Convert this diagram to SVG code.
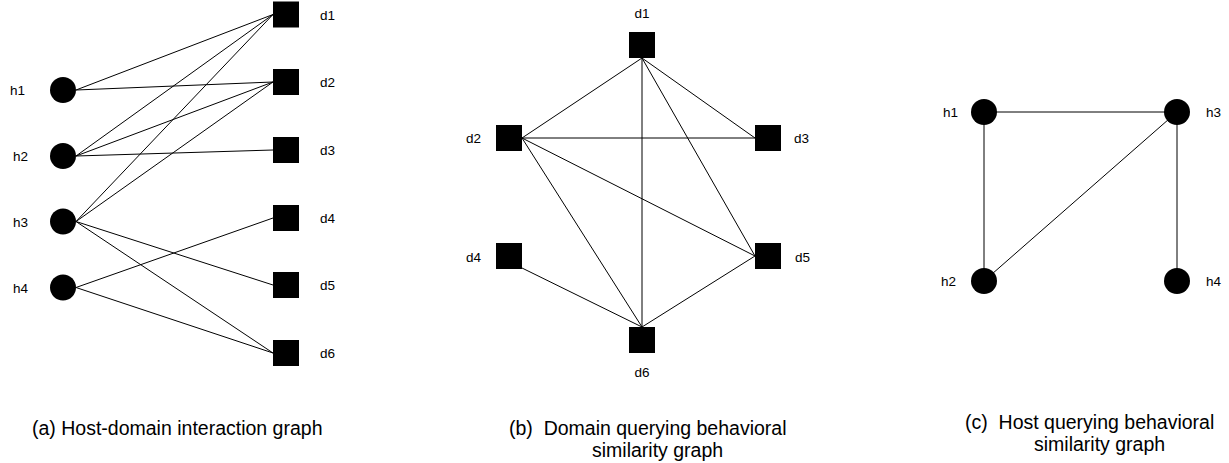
<svg xmlns="http://www.w3.org/2000/svg" width="1229" height="463" viewBox="0 0 1229 463">
<style>
.e{stroke:#000;stroke-width:1;fill:none}
.sq{fill:#000}
.ci{fill:#000}
.lb{font-family:"Liberation Sans",Arial,sans-serif;font-size:13.5px;fill:#000}
.cap{font-family:"Liberation Sans",Arial,sans-serif;font-size:19.5px;fill:#000}
</style>
<rect width="1229" height="463" fill="#fff"/>
<g id="connectors">
<!-- panel a -->
<line class="e" x1="76" y1="90" x2="273" y2="14.5"/>
<line class="e" x1="76" y1="90" x2="273" y2="82"/>
<line class="e" x1="76" y1="156" x2="273" y2="14.5"/>
<line class="e" x1="76" y1="156" x2="273" y2="82"/>
<line class="e" x1="76" y1="156" x2="273" y2="150"/>
<line class="e" x1="76" y1="221.5" x2="273" y2="14.5"/>
<line class="e" x1="76" y1="221.5" x2="273" y2="82"/>
<line class="e" x1="76" y1="221.5" x2="273" y2="285"/>
<line class="e" x1="76" y1="221.5" x2="273" y2="353"/>
<line class="e" x1="76" y1="287.5" x2="273" y2="218"/>
<line class="e" x1="76" y1="287.5" x2="273" y2="353"/>
<!-- panel b -->
<line class="e" x1="642" y1="58" x2="522" y2="138"/>
<line class="e" x1="642" y1="58" x2="755" y2="138"/>
<line class="e" x1="642" y1="58" x2="642" y2="327"/>
<line class="e" x1="642" y1="58" x2="755" y2="256"/>
<line class="e" x1="522" y1="138" x2="755" y2="138"/>
<line class="e" x1="522" y1="138" x2="755" y2="256"/>
<line class="e" x1="522" y1="138" x2="642" y2="327"/>
<line class="e" x1="522" y1="268" x2="642" y2="327"/>
<line class="e" x1="755" y1="256" x2="642" y2="327"/>
<!-- panel c -->
<line class="e" x1="984" y1="112" x2="1177" y2="112"/>
<line class="e" x1="984" y1="112" x2="984" y2="281"/>
<line class="e" x1="1177" y1="112" x2="1177" y2="281"/>
<line class="e" x1="1177" y1="112" x2="984" y2="281"/>
</g>
<!-- panel a nodes -->
<g id="a-h1"><circle class="ci" cx="63" cy="90" r="13"/><text class="lb" x="10" y="95">h1</text></g>
<g id="a-h2"><circle class="ci" cx="63" cy="156" r="13"/><text class="lb" x="13" y="161">h2</text></g>
<g id="a-h3"><circle class="ci" cx="63" cy="221.5" r="13"/><text class="lb" x="13" y="226.5">h3</text></g>
<g id="a-h4"><circle class="ci" cx="63" cy="287.5" r="13"/><text class="lb" x="13" y="292.5">h4</text></g>
<g id="a-d1"><rect class="sq" x="273" y="1.5" width="26" height="26"/><text class="lb" x="320" y="19.5">d1</text></g>
<g id="a-d2"><rect class="sq" x="273" y="69" width="26" height="26"/><text class="lb" x="320" y="87">d2</text></g>
<g id="a-d3"><rect class="sq" x="273" y="137" width="26" height="26"/><text class="lb" x="320" y="155">d3</text></g>
<g id="a-d4"><rect class="sq" x="273" y="205" width="26" height="26"/><text class="lb" x="320" y="223">d4</text></g>
<g id="a-d5"><rect class="sq" x="273" y="272" width="26" height="26"/><text class="lb" x="320" y="290">d5</text></g>
<g id="a-d6"><rect class="sq" x="273" y="340" width="26" height="26"/><text class="lb" x="320" y="358">d6</text></g>
<!-- panel b nodes -->
<g id="b-d1"><rect class="sq" x="629" y="32" width="26" height="26"/><text class="lb" x="642" y="18" text-anchor="middle">d1</text></g>
<g id="b-d2"><rect class="sq" x="496" y="125" width="26" height="26"/><text class="lb" x="466" y="143">d2</text></g>
<g id="b-d3"><rect class="sq" x="755" y="125" width="26" height="26"/><text class="lb" x="794" y="143">d3</text></g>
<g id="b-d4"><rect class="sq" x="496" y="243" width="26" height="26"/><text class="lb" x="466" y="262">d4</text></g>
<g id="b-d5"><rect class="sq" x="755" y="243" width="26" height="26"/><text class="lb" x="795" y="262">d5</text></g>
<g id="b-d6"><rect class="sq" x="629" y="327" width="26" height="26"/><text class="lb" x="642" y="377" text-anchor="middle">d6</text></g>
<!-- panel c nodes -->
<g id="c-h1"><circle class="ci" cx="984" cy="112" r="13"/><text class="lb" x="943" y="117">h1</text></g>
<g id="c-h2"><circle class="ci" cx="984" cy="281" r="13"/><text class="lb" x="941" y="286">h2</text></g>
<g id="c-h3"><circle class="ci" cx="1177" cy="112" r="13"/><text class="lb" x="1206" y="117">h3</text></g>
<g id="c-h4"><circle class="ci" cx="1177" cy="281" r="13"/><text class="lb" x="1206" y="286">h4</text></g>
<!-- captions -->
<g id="captions">
<text class="cap" x="32" y="435">(a) Host-domain interaction graph</text>
<text class="cap" x="509" y="435" xml:space="preserve">(b)  Domain querying behavioral</text>
<text class="cap" x="592" y="457">similarity graph</text>
<text class="cap" x="965" y="429" xml:space="preserve">(c)  Host querying behavioral</text>
<text class="cap" x="1034" y="451">similarity graph</text>
</g>
</svg>
